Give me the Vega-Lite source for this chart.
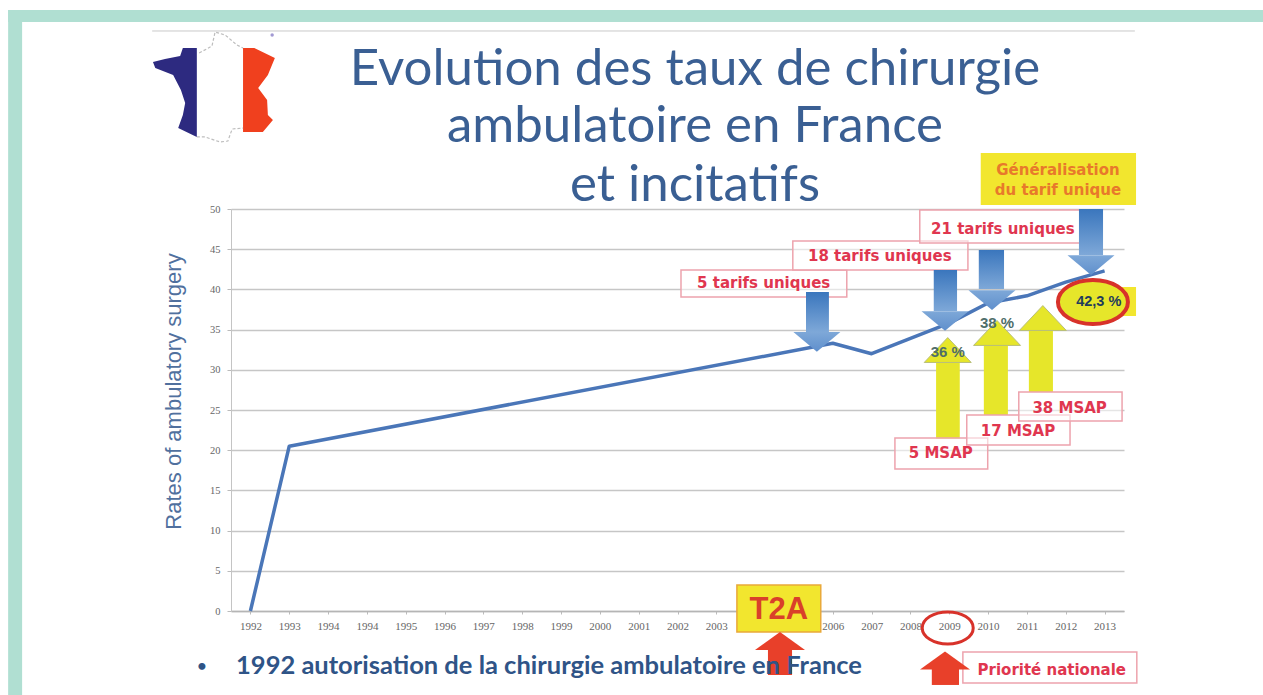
{"$schema":"https://vega.github.io/schema/vega-lite/v6.json","width":893,"height":402,"autosize":{"type":"none"},"padding":{"left":231,"top":209,"right":139,"bottom":84},"background":"#ffffff","config":{"view":{"stroke":null}},
"datasets":{
"cadre":[{"pos":-6.24,"pos2":26.08,"val":74.75,"val2":73.26},{"pos":-6.24,"pos2":-5.88,"val":74.75,"val2":-10.45}],
"courbe":[{"annee":"1992","pos":0,"val":0},{"annee":"1993","pos":1,"val":20.5},{"annee":"2006","pos":15,"val":33.3},{"annee":"2007","pos":16,"val":32},{"annee":"2009","pos":18,"val":35.8},{"annee":"2010","pos":19,"val":38.3},{"annee":"2011","pos":20,"val":39.2},{"annee":"2012","pos":21,"val":40.9},{"annee":"2013","pos":22,"val":42.3}],
"titre":[{"pos":11.45,"val":67.3,"t":"Evolution des taux de chirurgie"},{"pos":11.45,"val":60.2,"t":"ambulatoire en France"},{"pos":11.45,"val":52.86,"t":"et incitatifs"}]
},
"encoding":{
"x":{"field":"pos","type":"quantitative","scale":{"domain":[-0.5,22.5],"nice":false,"zero":false},"axis":{"title":null,"values":[0,1,2,3,4,5,6,7,8,9,10,11,12,13,14,15,16,17,18,19,20,21,22],"labelExpr":"['1992','1993','1994','1994','1995','1996','1997','1998','1999','2000','2001','2002','2003','','','2006','2007','2008','2009','2010','2011','2012','2013'][datum.value]","labelFont":"Liberation Serif","labelFontSize":11,"labelColor":"#666666","labelPadding":6,"tickSize":3,"tickColor":"#bbbbbb","domainColor":"#b5b5b5","domainWidth":1.5,"grid":false,"labelOverlap":false,"labelFlush":false}},
"y":{"field":"val","type":"quantitative","scale":{"domain":[0,50],"nice":false,"zero":false},"axis":{"title":"Rates of ambulatory surgery","titleFont":"Liberation Sans","titleFontSize":22,"titleFontWeight":"normal","titleColor":"#50709e","titlePadding":24,"titleY":182,"values":[0,5,10,15,20,25,30,35,40,45,50],"labelFont":"Liberation Serif","labelFontSize":10.5,"labelColor":"#666666","labelPadding":7,"tickSize":4,"tickColor":"#bbbbbb","domainColor":"#c4c4c4","grid":true,"gridColor":"#c6c6c6","gridWidth":1.5}}
},
"layer":[
{"data":{"name":"cadre"},"mark":{"type":"rect","color":"#b0dfd2"},"encoding":{"x2":{"field":"pos2"},"y2":{"field":"val2"}}},
{"data":{"values":[{"pos":-2.53,"pos2":22.78,"val":72.14,"val2":72.14}]},"mark":{"type":"rule","color":"#c9c9c9","strokeWidth":1},"encoding":{"x2":{"field":"pos2"},"y2":{"field":"val2"}}},
{"data":{"values":[{"pos":-1.74,"pos2":-1.38,"val":70.02},{"pos":-1.81,"pos2":-1.38,"val":69.03},{"pos":-2.2,"pos2":-1.38,"val":68.66},{"pos":-2.51,"pos2":-1.38,"val":68.28},{"pos":-2.45,"pos2":-1.38,"val":67.54},{"pos":-1.99,"pos2":-1.38,"val":66.67},{"pos":-1.79,"pos2":-1.38,"val":64.8},{"pos":-1.68,"pos2":-1.38,"val":63.18},{"pos":-1.74,"pos2":-1.38,"val":61.69},{"pos":-1.86,"pos2":-1.38,"val":60.07},{"pos":-1.38,"pos2":-1.38,"val":58.96}]},"mark":{"type":"area","orient":"horizontal","color":"#2d2a80"},"encoding":{"x2":{"field":"pos2"}}},
{"data":{"values":[{"pos":0.1,"pos2":-0.19,"val":70.02},{"pos":0.63,"pos2":-0.19,"val":68.78},{"pos":0.45,"pos2":-0.19,"val":66.67},{"pos":0.2,"pos2":-0.19,"val":65.05},{"pos":0.43,"pos2":-0.19,"val":63.56},{"pos":0.45,"pos2":-0.19,"val":61.69},{"pos":0.58,"pos2":-0.19,"val":61.07},{"pos":0.32,"pos2":-0.19,"val":59.58}]},"mark":{"type":"area","orient":"horizontal","color":"#f0401e"},"encoding":{"x2":{"field":"pos2"}}},
{"data":{"values":[{"c":"n","i":1,"pos":-1.32,"val":69.4},{"c":"n","i":2,"pos":-0.99,"val":70.27},{"c":"n","i":3,"pos":-0.91,"val":72.01},{"c":"n","i":4,"pos":-0.65,"val":71.64},{"c":"n","i":5,"pos":-0.35,"val":70.4},{"c":"n","i":6,"pos":-0.19,"val":70.02},{"c":"s","i":1,"pos":-1.38,"val":58.96},{"c":"s","i":2,"pos":-1.17,"val":58.96},{"c":"s","i":3,"pos":-0.78,"val":58.33},{"c":"s","i":4,"pos":-0.58,"val":58.46},{"c":"s","i":5,"pos":-0.47,"val":59.95},{"c":"s","i":6,"pos":-0.19,"val":60.07}]},"mark":{"type":"line","color":"#bdbdbd","strokeWidth":1.2,"strokeDash":[3,2]},"encoding":{"detail":{"field":"c"},"order":{"field":"i"}}},
{"data":{"values":[{"pos":0.56,"val":71.64}]},"mark":{"type":"point","filled":true,"color":"#7a6fc0","size":12}},
{"data":{"name":"titre"},"mark":{"type":"text","font":"Lato","fontSize":51,"color":"#3a5f93","baseline":"middle","align":"center"},"encoding":{"text":{"field":"t"}}},
{"data":{"name":"courbe"},"mark":{"type":"line","color":"#4a76b8","strokeWidth":3.5,"strokeJoin":"round"}},
{"data":{"values":[{"pos":17.66,"pos2":18.27,"val":21.39,"val2":30.85},{"pos":18.89,"pos2":19.51,"val":24.38,"val2":33.33},{"pos":20.05,"pos2":20.67,"val":27.24,"val2":34.95}]},"mark":{"type":"rect","color":"#e6e62a"},"encoding":{"x2":{"field":"pos2"},"y2":{"field":"val2"}}},
{"data":{"values":[{"pos":17.96,"val":32.46},{"pos":19.23,"val":34.58},{"pos":20.41,"val":36.44}]},"mark":{"type":"point","filled":true,"opacity":1,"shape":"M-1,0.53L1,0.53L0,-0.53Z","size":2209,"color":"#e6e62a","stroke":"#b9bf7a","strokeWidth":1}},
{"data":{"values":[{"pos":11.09,"pos2":15.36,"val":42.41,"val2":39.05},{"pos":13.97,"pos2":18.48,"val":46.02,"val2":42.41},{"pos":17.24,"pos2":21.8,"val":49.88,"val2":45.77},{"pos":16.6,"pos2":18.99,"val":21.52,"val2":17.66},{"pos":18.45,"pos2":21.11,"val":24.38,"val2":20.65},{"pos":19.79,"pos2":22.45,"val":27.24,"val2":23.63}]},"mark":{"type":"rect","fill":"#ffffff","fillOpacity":0.55,"stroke":"#eda3ad","strokeWidth":1.5},"encoding":{"x2":{"field":"pos2"},"y2":{"field":"val2"}}},
{"data":{"values":[{"pos":14.31,"pos2":14.9,"val":39.68,"val2":34.7},{"pos":17.6,"pos2":18.2,"val":42.41,"val2":37.31},{"pos":18.76,"pos2":19.41,"val":44.9,"val2":40.05},{"pos":21.34,"pos2":21.96,"val":50,"val2":44.28}]},"mark":{"type":"rect","color":{"gradient":"linear","x1":0,"y1":0,"x2":0,"y2":1,"stops":[{"offset":0,"color":"#3a76bd"},{"offset":1,"color":"#7ea8d8"}]}},"encoding":{"x2":{"field":"pos2"},"y2":{"field":"val2"}}},
{"data":{"values":[{"pos":14.59,"val":33.46},{"pos":17.89,"val":36.07},{"pos":19.1,"val":38.68},{"pos":21.65,"val":43.03}]},"mark":{"type":"point","filled":true,"opacity":1,"shape":"M-1,-0.42L1,-0.42L0,0.42Z","size":2209,"color":{"gradient":"linear","x1":0,"y1":0,"x2":0,"y2":1,"stops":[{"offset":0,"color":"#7ea8d8"},{"offset":1,"color":"#5f8fcc"}]}}},
{"data":{"values":[{"pos":18.35,"pos2":22.83,"val":-5.1,"val2":-8.96}]},"mark":{"type":"rect","fill":"#ffffff","stroke":"#eda3ad","strokeWidth":1.5},"encoding":{"x2":{"field":"pos2"},"y2":{"field":"val2"}}},
{"data":{"values":[{"pos":18.81,"pos2":22.81,"val":56.97,"val2":50.5},{"pos":22.4,"pos2":22.81,"val":40.3,"val2":36.69}]},"mark":{"type":"rect","color":"#f2e62e"},"encoding":{"x2":{"field":"pos2"},"y2":{"field":"val2"}}},
{"data":{"values":[{"pos":12.53,"pos2":14.69,"val":3.23,"val2":-2.6}]},"mark":{"type":"rect","fill":"#f2e62e","stroke":"#e9a93a","strokeWidth":1.5},"encoding":{"x2":{"field":"pos2"},"y2":{"field":"val2"}}},
{"data":{"values":[{"pos":13.33,"pos2":13.95,"val":-7.96,"val2":-4.85},{"pos":17.55,"pos2":18.25,"val":-9.2,"val2":-7.21}]},"mark":{"type":"rect","color":"#e8402a"},"encoding":{"x2":{"field":"pos2"},"y2":{"field":"val2"}}},
{"data":{"values":[{"pos":13.64,"val":-3.73},{"pos":17.89,"val":-6.16}]},"mark":{"type":"point","filled":true,"opacity":1,"shape":"M-1,0.36L1,0.36L0,-0.36Z","size":2500,"color":"#e8402a"}},
{"data":{"values":[{"pos":21.7,"val":38.43}]},"mark":{"type":"point","filled":true,"opacity":1,"shape":"M-1,0A1,0.63 0 1 1 1,0A1,0.63 0 1 1 -1,0Z","size":4900,"fill":"#e6e62a","stroke":"#d8322a","strokeWidth":4}},
{"data":{"values":[{"pos":17.96,"val":-2.11}]},"mark":{"type":"point","filled":false,"opacity":1,"shape":"M-1,0A1,0.63 0 1 1 1,0A1,0.63 0 1 1 -1,0Z","size":2601,"stroke":"#d8322a","strokeWidth":3}},
{"data":{"values":[{"pos":13.22,"val":40.8,"t":"5 tarifs uniques"},{"pos":16.21,"val":44.15,"t":"18 tarifs uniques"},{"pos":19.38,"val":47.51,"t":"21 tarifs uniques"},{"pos":20.64,"val":-7.34,"t":"Priorité nationale"},{"pos":17.78,"val":19.65,"t":"5 MSAP"},{"pos":19.77,"val":22.39,"t":"17 MSAP"},{"pos":21.1,"val":25.25,"t":"38 MSAP"}]},"mark":{"type":"text","font":"DejaVu Sans","fontWeight":"bold","fontSize":15,"color":"#e0364f","baseline":"middle","align":"center"},"encoding":{"text":{"field":"t"}}},
{"data":{"values":[{"pos":20.8,"val":54.85,"t":"Généralisation"},{"pos":20.8,"val":52.36,"t":"du tarif unique"}]},"mark":{"type":"text","font":"DejaVu Sans","fontWeight":"bold","fontSize":15,"color":"#e8792b","baseline":"middle","align":"center"},"encoding":{"text":{"field":"t"}}},
{"data":{"values":[{"pos":13.61,"val":0.12,"t":"T2A"}]},"mark":{"type":"text","font":"Liberation Sans","fontWeight":"bold","fontSize":31,"color":"#d9402a","baseline":"middle","align":"center"},"encoding":{"text":{"field":"t"}}},
{"data":{"values":[{"pos":17.96,"val":32.21,"t":"36 %"},{"pos":19.23,"val":35.82,"t":"38 %"}]},"mark":{"type":"text","font":"Liberation Sans","fontWeight":"bold","fontSize":15,"color":"#4f6e6a","baseline":"middle","align":"center"},"encoding":{"text":{"field":"t"}}},
{"data":{"values":[{"pos":21.85,"val":38.43,"t":"42,3 %"}]},"mark":{"type":"text","font":"Liberation Sans","fontWeight":"bold","fontSize":14.5,"color":"#1f3c5c","baseline":"middle","align":"center"},"encoding":{"text":{"field":"t"}}},
{"data":{"values":[{"pos":-1.25,"val":-6.8,"t":"•"}]},"mark":{"type":"text","font":"Lato","fontWeight":"bold","fontSize":16,"color":"#2f5487","baseline":"middle","align":"center"},"encoding":{"text":{"field":"t"}}},
{"data":{"values":[{"pos":-0.37,"val":-6.8,"t":"1992 autorisation de la chirurgie ambulatoire en France"}]},"mark":{"type":"text","font":"Lato","fontWeight":"bold","fontSize":25.5,"color":"#2f5487","baseline":"middle","align":"left"},"encoding":{"text":{"field":"t"}}}
]}
